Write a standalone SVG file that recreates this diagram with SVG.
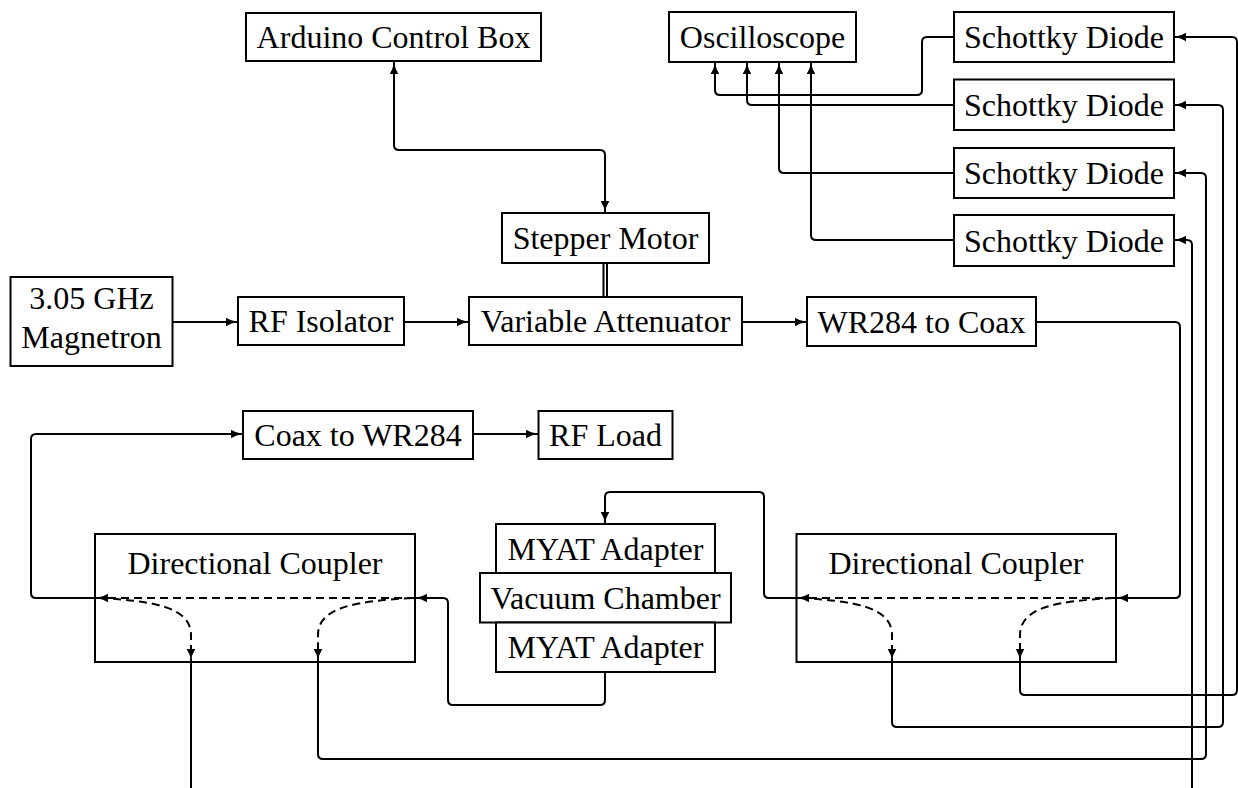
<svg xmlns="http://www.w3.org/2000/svg" width="1238" height="788" viewBox="0 0 1238 788">
<style>
.box{fill:#fff;stroke:#000;stroke-width:2}
.lbl{font-size:32px;fill:#000;text-anchor:middle}
.c{fill:none;stroke:#000;stroke-width:2}
.d{fill:none;stroke:#000;stroke-width:2;stroke-dasharray:8 5}
.a{marker-end:url(#ah)}
</style>
<defs>
<marker id="ah" markerUnits="userSpaceOnUse" markerWidth="13" markerHeight="10" refX="12" refY="5" orient="auto-start-reverse" viewBox="0 0 13 10">
<path d="M0,0.7 Q5,4 12,5 Q5,6 0,9.3 z" fill="#000"/>
</marker>
</defs>
<rect width="1238" height="788" fill="#fff"/>

<g id="connectors">
<path class="c" d="M394 62 L394 145 Q394 150 399 150 L600 150 Q605 150 605 155 L605 213" marker-start="url(#ah)" marker-end="url(#ah)"/>
<line class="c" x1="603.5" y1="263" x2="603.5" y2="297" stroke-width="1.3"/>
<line class="c" x1="607" y1="263" x2="607" y2="297" stroke-width="1.3"/>
<path class="c a" d="M172 322 L238 322"/>
<path class="c a" d="M404 322 L469 322"/>
<path class="c a" d="M742 322 L807 322"/>
<path class="c a" d="M1036 322 L1175 322 Q1180 322 1180 327 L1180 593 Q1180 598 1175 598 L1116 598"/>
<path class="c a" d="M797 598 L769 598 Q764 598 764 593 L764 497 Q764 492 759 492 L610 492 Q605 492 605 497 L605 524"/>
<path class="c a" d="M605 672 L605 700 Q605 705 600 705 L453 705 Q448 705 448 700 L448 603 Q448 598 443 598 L415 598"/>
<path class="c a" d="M95 598 L36 598 Q31 598 31 593 L31 439 Q31 434 36 434 L243 434"/>
<path class="c a" d="M473 434 L538 434"/>
<path class="d a" d="M415 598 L96 598"/>
<path class="d a" d="M100 598 C150 601 191 606 191 635 L191 661"/>
<path class="d a" d="M412 598 C360 601 318 606 318 635 L318 661"/>
<path class="d a" d="M1116 598 L797 598"/>
<path class="d a" d="M801 598 C851 601 892 606 892 635 L892 661"/>
<path class="d a" d="M1113 598 C1061 601 1020 606 1020 635 L1020 661"/>
<path class="c a" d="M1020 662 L1020 690 Q1020 695 1025 695 L1232 695 Q1237 695 1237 690 L1237 42 Q1237 37 1232 37 L1174 37"/>
<path class="c a" d="M892 662 L892 722 Q892 727 897 727 L1218 727 Q1223 727 1223 722 L1223 110 Q1223 105 1218 105 L1174 105"/>
<path class="c a" d="M318 662 L318 754 Q318 759 323 759 L1201 759 Q1206 759 1206 754 L1206 178 Q1206 173 1201 173 L1174 173"/>
<path class="c" d="M191 662 L191 790"/>
<path class="c a" d="M1192 790 L1192 245 Q1192 240 1187 240 L1174 240"/>
<path class="c a" d="M954 37 L927 37 Q922 37 922 42 L922 90 Q922 95 917 95 L720 95 Q715 95 715 90 L715 62"/>
<path class="c a" d="M954 105 L752 105 Q747 105 747 100 L747 62"/>
<path class="c a" d="M954 173 L784 173 Q779 173 779 168 L779 62"/>
<path class="c a" d="M954 240 L816 240 Q811 240 811 235 L811 62"/>
</g>

<g font-family="Liberation Serif, Times New Roman, serif">
<g id="arduino"><rect class="box" x="246" y="13" width="295" height="48"/><text class="lbl" x="393.5" y="48">Arduino Control Box</text></g>
<g id="oscilloscope"><rect class="box" x="669" y="12" width="187" height="50"/><text class="lbl" x="762.5" y="48">Oscilloscope</text></g>
<g id="diode1"><rect class="box" x="954" y="12" width="220" height="50"/><text class="lbl" x="1064" y="48">Schottky Diode</text></g>
<g id="diode2"><rect class="box" x="954" y="79.5" width="220" height="50.5"/><text class="lbl" x="1064" y="115.5">Schottky Diode</text></g>
<g id="diode3"><rect class="box" x="954" y="148" width="220" height="50"/><text class="lbl" x="1064" y="184">Schottky Diode</text></g>
<g id="diode4"><rect class="box" x="954" y="215" width="220" height="51"/><text class="lbl" x="1064" y="251.5">Schottky Diode</text></g>
<g id="stepper"><rect class="box" x="502" y="213" width="207" height="50"/><text class="lbl" x="605.5" y="249">Stepper Motor</text></g>
<g id="magnetron"><rect class="box" x="10.5" y="277" width="162" height="89"/><text class="lbl" x="91.5" y="309">3.05 GHz</text><text class="lbl" x="91.5" y="347.5">Magnetron</text></g>
<g id="isolator"><rect class="box" x="238" y="297" width="166" height="48"/><text class="lbl" x="321" y="332">RF Isolator</text></g>
<g id="attenuator"><rect class="box" x="469" y="297" width="273" height="48"/><text class="lbl" x="605.5" y="332">Variable Attenuator</text></g>
<g id="wr284coax"><rect class="box" x="807" y="297" width="229" height="49"/><text class="lbl" x="921.5" y="332.5">WR284 to Coax</text></g>
<g id="coaxwr284"><rect class="box" x="243" y="411" width="230" height="48"/><text class="lbl" x="358" y="446">Coax to WR284</text></g>
<g id="rfload"><rect class="box" x="538.5" y="411" width="134" height="48"/><text class="lbl" x="605.5" y="446">RF Load</text></g>
<g id="myat1"><rect class="box" x="496" y="524" width="219" height="49"/><text class="lbl" x="605.5" y="559.5">MYAT Adapter</text></g>
<g id="vacuum"><rect class="box" x="480" y="573" width="251" height="49.5"/><text class="lbl" x="605.5" y="608.5">Vacuum Chamber</text></g>
<g id="myat2"><rect class="box" x="496" y="622.5" width="219" height="49.5"/><text class="lbl" x="605.5" y="658">MYAT Adapter</text></g>
<g id="coupler-left"><rect class="box" x="95" y="534" width="320" height="128" style="fill:none"/><text class="lbl" x="255" y="573.5">Directional Coupler</text></g>
<g id="coupler-right"><rect class="box" x="796.5" y="534" width="319.5" height="128" style="fill:none"/><text class="lbl" x="956" y="573.5">Directional Coupler</text></g>
</g>
</svg>
